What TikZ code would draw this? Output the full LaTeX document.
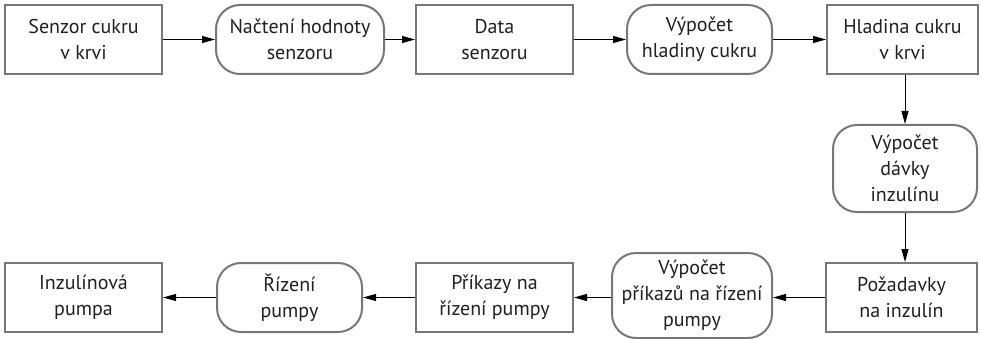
\documentclass[tikz,border=0pt]{standalone}
\usepackage{fontspec}
\setmainfont{PT Sans}
\usetikzlibrary{arrows.meta}
\definecolor{edge}{HTML}{777777}
\definecolor{ink}{HTML}{231F20}
\tikzset{
  base/.style={draw=edge, line width=2pt, text=ink, align=center, inner sep=0pt,
    font=\fontsize{20}{26}\selectfont, minimum height=69pt},
  sqbox/.style={base, rectangle},
  rbox/.style={base, rectangle, rounded corners=24pt},
  arr/.style={draw=black, line width=1pt, -{Triangle[length=13pt,width=7pt]}}
}
\begin{document}
\begin{tikzpicture}[x=1pt,y=-1pt]
\useasboundingbox (0,0) rectangle (981,339);
\node[sqbox, minimum width=157pt] (b1) at (83.5,39.5) {Senzor cukru\\v krvi};
\node[rbox, minimum width=168pt] (r1) at (300,39.5) {Načtení hodnoty\\senzoru};
\node[sqbox, minimum width=157pt] (b2) at (494.5,39.5) {Data\\senzoru};
\node[rbox, minimum width=145pt] (r2) at (699.5,39.5) {Výpočet\\hladiny cukru};
\node[sqbox, minimum width=151pt] (b3) at (902.5,39.5) {Hladina cukru\\v krvi};
\node[rbox, minimum width=144pt, minimum height=87pt] (r3) at (905,168.5) {Výpočet\\dávky\\inzulínu};
\node[sqbox, minimum width=151pt] (b4) at (901.5,297.5) {Požadavky\\na inzulín};
\node[rbox, minimum width=160pt, minimum height=85pt] (r4) at (692,295.5) {Výpočet\\příkazů na řízení\\pumpy};
\node[sqbox, minimum width=157pt] (b5) at (494.5,297.5) {Příkazy na\\řízení pumpy};
\node[rbox, minimum width=145pt] (r5) at (289.5,297.5) {Řízení\\pumpy};
\node[sqbox, minimum width=157pt] (b6) at (83.5,297.5) {Inzulínová\\pumpa};
\draw[arr] (b1.east) -- (r1.west);
\draw[arr] (r1.east) -- (b2.west);
\draw[arr] (b2.east) -- (r2.west);
\draw[arr] (r2.east) -- (b3.west);
\draw[arr] (b3.south -| r3.north) -- (r3.north);
\draw[arr] (r3.south) -- (b4.north -| r3.south);
\draw[arr] (b4.west) -- (r4.east |- b4.west);
\draw[arr] (r4.west |- b5.east) -- (b5.east);
\draw[arr] (b5.west) -- (r5.east);
\draw[arr] (r5.west) -- (b6.east);
\end{tikzpicture}
\end{document}
